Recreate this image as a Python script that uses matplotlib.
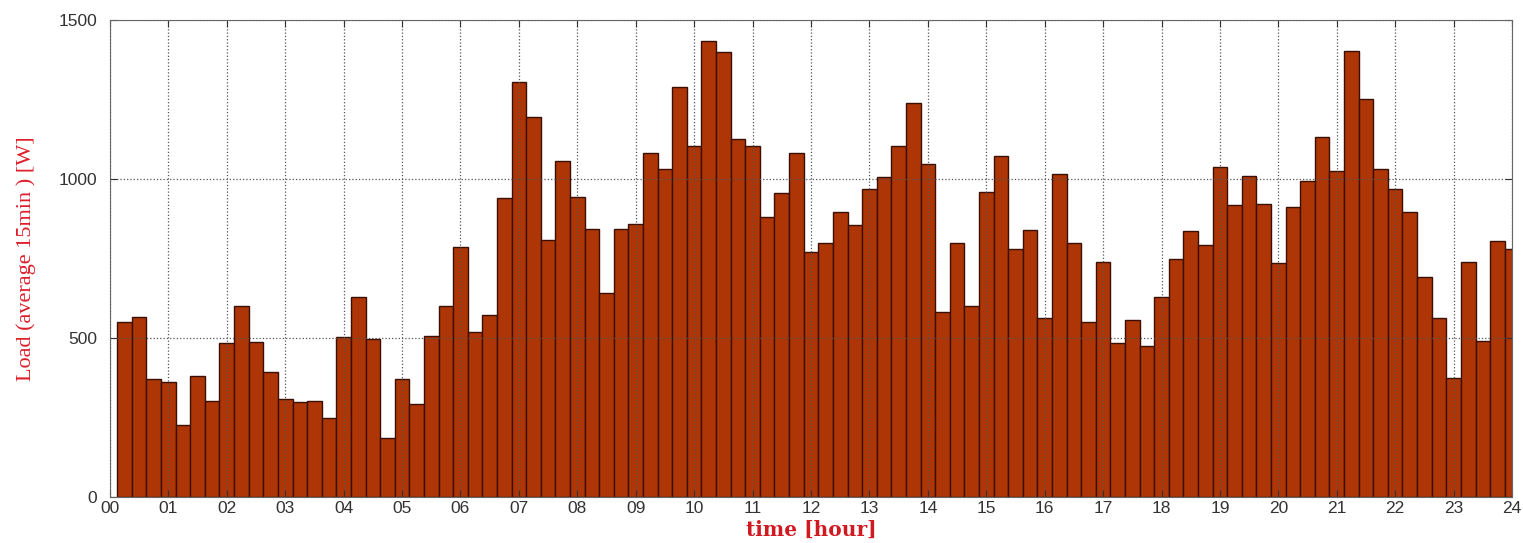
"""Daily load profile, 15 min averages."""

import numpy as np
from matplotlib import pyplot as plt

# one value per 15 min slot, slot k ends at k/4 hours
hours = np.arange(1, 97) * 0.25
load = [
    551, 567, 370, 363, 226, 382, 303, 485,
    602, 488, 392, 307, 300, 303, 250, 502,
    628, 496, 187, 370, 291, 506, 601, 787,
    518, 572, 939, 1306, 1194, 808, 1057, 942,
    843, 640, 843, 857, 1083, 1030, 1290, 1104,
    1434, 1400, 1126, 1104, 882, 955, 1083, 771,
    798, 895, 855, 969, 1007, 1105, 1238, 1046,
    583, 800, 602, 960, 1073, 780, 840, 564,
    1015, 800, 551, 738, 483, 557, 476, 628,
    747, 836, 792, 1037, 918, 1010, 921, 735,
    913, 995, 1133, 1025, 1404, 1250, 1030, 969,
    895, 693, 562, 375, 738, 491, 806, 780,
]
x_ticks = list(range(0, 25))
x_tick_labels = [f'{h:02d}' for h in x_ticks]
y_ticks = [0, 500, 1000, 1500]

fig = plt.figure(figsize=(15.23, 5.43), dpi=100)
ax = fig.add_axes([0.0722, 0.0847, 0.9206, 0.8785])

ax.bar(hours, load, width=0.25, color='#ad3506', edgecolor='#3a0f04', linewidth=1.0, zorder=2)

ax.set_xlim(0, 24)
ax.set_ylim(0, 1500)
ax.set_xticks(x_ticks)
ax.set_xticklabels(x_tick_labels)
ax.set_yticks(y_ticks)
ax.grid(True, linestyle=':', color='#555555', linewidth=0.9, zorder=3)
ax.set_axisbelow(False)
ax.tick_params(direction='in', top=True, right=True, labelsize=12.5, colors='#333333', length=5)
ax.tick_params(axis='y', pad=9)
ax.tick_params(axis='x', pad=3)
for lbl in ax.get_xticklabels() + ax.get_yticklabels():
    lbl.set_family('Liberation Sans')
for s in ax.spines.values():
    s.set_color('#666666')
    s.set_zorder(4)

ax.set_ylabel('Load (average 15min ) [W]', family='Liberation Serif', color='#dc1f2a', fontsize=16, labelpad=16)
ax.set_xlabel('time [hour]', family='DejaVu Serif', color='#d01a22', fontsize=14.5, fontweight='bold', labelpad=3)

fig.savefig('out.png')
